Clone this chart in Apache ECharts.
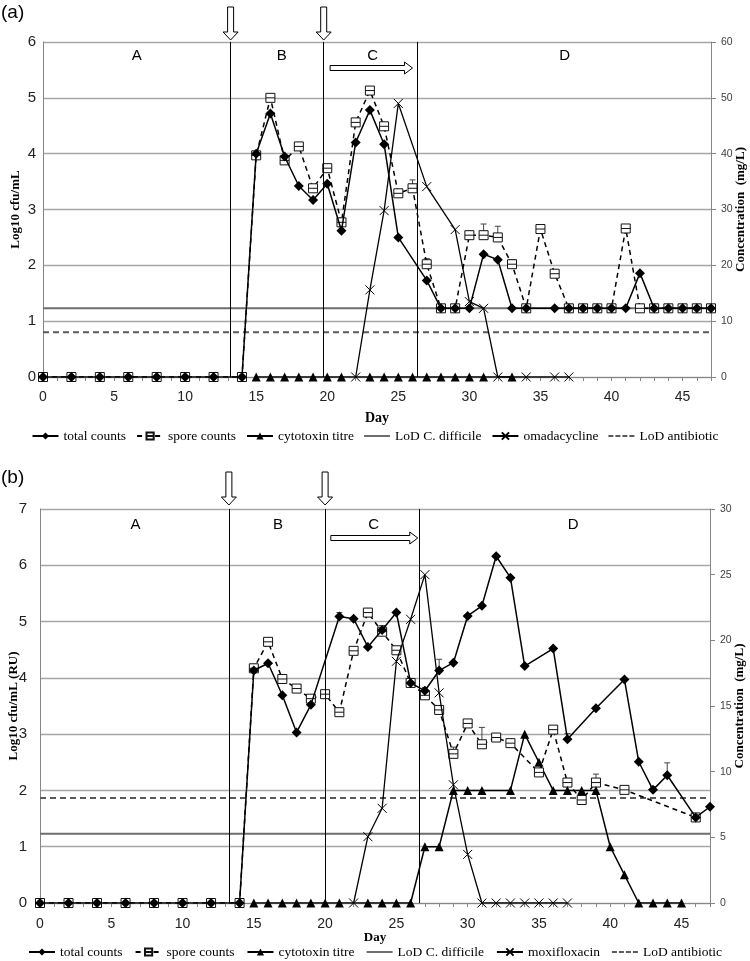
<!DOCTYPE html>
<html>
<head>
<meta charset="utf-8">
<script src="https://cdn.jsdelivr.net/npm/echarts@6/dist/echarts.min.js"></script>
<style>
  body { margin: 0; background: #fff; }
  #ca { position: absolute; left: 0; top: 0; width: 750px; height: 465px; }
  #cb { position: absolute; left: 0; top: 465px; width: 750px; height: 496px; }
</style>
</head>
<body>
<div id="ca"></div>
<div id="cb"></div>
<script>
// ---------- panel (a): omadacycline ----------
const totalDaysA = [0, 2, 4, 6, 8, 10, 12, 14, 15, 16, 17, 18, 19, 20, 21, 22, 23, 24, 25, 27, 28, 29, 30, 31, 32, 33, 34, 36, 37, 38, 39, 40, 41, 42, 43, 44, 45, 46, 47]
const totalA = [0, 0, 0, 0, 0, 0, 0, 0, 4.0, 4.72, 3.95, 3.42, 3.17, 3.46, 2.62, 4.2, 4.78, 4.17, 2.5, 1.73, 1.23, 1.23, 1.23, 2.2, 2.1, 1.23, 1.23, 1.23, 1.23, 1.23, 1.23, 1.23, 1.23, 1.86, 1.23, 1.23, 1.23, 1.23, 1.23]
const sporeDaysA = [0, 2, 4, 6, 8, 10, 12, 14, 15, 16, 17, 18, 19, 20, 21, 22, 23, 24, 25, 26, 27, 28, 29, 30, 31, 32, 33, 34, 35, 36, 37, 38, 39, 40, 41, 42, 43, 44, 45, 46, 47]
const sporeA = [0, 0, 0, 0, 0, 0, 0, 0, 3.97, 5.0, 3.88, 4.13, 3.38, 3.74, 2.77, 4.56, 5.13, 4.49, 3.29, 3.38, 2.02, 1.23, 1.23, 2.54, 2.54, 2.5, 2.02, 1.23, 2.65, 1.85, 1.23, 1.23, 1.23, 1.23, 2.66, 1.23, 1.23, 1.23, 1.23, 1.23, 1.23]
const sporeErrDaysA = [16, 18, 20, 22, 23, 24, 26, 27, 30, 31, 32, 33, 35, 41]
const sporeErrA = [0.06, 0.06, 0.06, 0.05, 0.05, 0.05, 0.15, 0.1, 0.06, 0.2, 0.2, 0.08, 0.05, 0.05]
const cytoDaysA = [15, 16, 17, 18, 19, 20, 21, 23, 24, 25, 26, 27, 28, 29, 30, 31, 33]
const cytoA = [0, 0, 0, 0, 0, 0, 0, 0, 0, 0, 0, 0, 0, 0, 0, 0, 0]
const drugDaysA = [22, 23, 24, 25, 27, 29, 30, 31, 32, 34, 36, 37]
const drugA = [0, 15.6, 29.8, 49, 34.1, 26.4, 13.5, 12.3, 0, 0, 0, 0]
const phasesA = [13.2, 19.75, 26.3]

// ---------- panel (b): moxifloxacin ----------
const totalDaysB = [0, 2, 4, 6, 8, 10, 12, 14, 15, 16, 17, 18, 19, 21, 22, 23, 24, 25, 26, 27, 28, 29, 30, 31, 32, 33, 34, 36, 37, 39, 41, 42, 43, 44, 46, 47]
const totalB = [0, 0, 0, 0, 0, 0, 0, 0, 4.13, 4.26, 3.69, 3.03, 3.52, 5.09, 5.05, 4.55, 4.85, 5.16, 3.91, 3.77, 4.13, 4.27, 5.1, 5.28, 6.16, 5.78, 4.21, 4.52, 2.91, 3.46, 3.97, 2.51, 2.01, 2.27, 1.52, 1.71]
const totalErrDaysB = [21, 24, 27, 28, 37, 43, 44]
const totalErrB = [0.07, 0.08, 0.06, 0.2, 0.1, 0.06, 0.22]
const sporeDaysB = [0, 2, 4, 6, 8, 10, 12, 14, 15, 16, 17, 18, 19, 20, 21, 22, 23, 24, 25, 26, 27, 28, 29, 30, 31, 32, 33, 35, 36, 37, 38, 39, 41, 46]
const sporeB = [0, 0, 0, 0, 0, 0, 0, 0, 4.17, 4.64, 3.98, 3.81, 3.63, 3.71, 3.39, 4.48, 5.16, 4.82, 4.49, 3.91, 3.69, 3.43, 2.65, 3.19, 2.82, 2.94, 2.84, 2.32, 3.08, 2.14, 1.83, 2.14, 2.01, 1.52]
const sporeErrDaysB = [16, 19, 28, 29, 30, 31, 33, 39]
const sporeErrB = [0.05, 0.05, 0.05, 0.12, 0.06, 0.3, 0.06, 0.15]
const cytoDaysB = [15, 16, 17, 18, 19, 20, 21, 23, 24, 25, 26, 27, 28, 29, 30, 31, 33, 34, 35, 36, 37, 38, 39, 40, 41, 42, 43, 44, 45]
const cytoB = [0, 0, 0, 0, 0, 0, 0, 0, 0, 0, 0, 1, 1, 2, 2, 2, 2, 3, 2.5, 2, 2, 2, 2, 1, 0.5, 0, 0, 0, 0]
const drugDaysB = [22, 23, 24, 25, 26, 27, 28, 29, 30, 31, 32, 33, 34, 35, 36, 37]
const drugB = [0, 5.05, 7.21, 18.4, 21.6, 25.0, 16.0, 9.0, 3.7, 0, 0, 0, 0, 0, 0, 0]
const phasesB = [13.25, 20.0, 26.6]

// shared
const dayRange = [0, 47]
const lodCdiff = 1.23 // log10 cfu/mL
const lodAntibiotic = 8 // mg/L
const phaseNames = ['A', 'B', 'C', 'D']

const SANS = 'Liberation Sans'
const SERIF = 'Liberation Serif'
const xMark = 'path://M0,0L10,10M10,0L0,10'
const sporeMark = 'path://M0,0L10,0L10,10L0,10ZM0,5L10,5'
const solidIcon = 'path://M0,0L26,0L26,2L0,2Z'
const dashIcon = 'path://M0,0L5,0L5,2L0,2ZM7,0L12,0L12,2L7,2ZM14,0L19,0L19,2L14,2ZM21,0L26,0L26,2L21,2Z'

function zip(a, b) {
  return a.map((d, i) => [d, b[i]])
}

function errData(days, errs, valDays, vals) {
  return days.map((d, i) => [d, vals[valDays.indexOf(d)], errs[i]])
}

function errSeries(data) {
  return {
    type: 'custom',
    silent: true,
    z: 1,
    data: data,
    renderItem(params, api) {
      const p0 = api.coord([api.value(0), api.value(1)])
      const p1 = api.coord([api.value(0), api.value(1) + api.value(2)])
      return {
        type: 'group',
        children: [
          { type: 'line', shape: { x1: p0[0], y1: p0[1], x2: p1[0], y2: p1[1] }, style: { stroke: '#444', lineWidth: 1 } },
          { type: 'line', shape: { x1: p1[0] - 3, y1: p1[1], x2: p1[0] + 3, y2: p1[1] }, style: { stroke: '#444', lineWidth: 1 } }
        ]
      }
    }
  }
}

function buildOption(p) {
  return {
    animation: false,
    grid: { left: p.grid[0], top: p.grid[1], width: p.grid[2], height: p.grid[3], containLabel: false, outerBoundsMode: 'none' },
    xAxis: {
      type: 'value',
      min: dayRange[0],
      max: dayRange[1],
      interval: 1,
      name: 'Day',
      nameLocation: 'middle',
      nameGap: p.dayGap,
      nameMoveOverlap: false,
      nameTextStyle: { fontFamily: SERIF, fontWeight: 'bold', fontSize: p.daySize, color: '#000' },
      axisLine: { show: true, onZero: false, lineStyle: { color: '#868686', width: 1 } },
      axisTick: { show: true, length: 4, lineStyle: { color: '#868686' } },
      axisLabel: {
        fontFamily: SANS, fontSize: 14, color: '#222', margin: p.xMargin,
        formatter: v => (v % 5 === 0 ? String(v) : '')
      },
      splitLine: { show: false }
    },
    yAxis: [
      {
        type: 'value',
        min: 0,
        max: p.yMaxL,
        interval: 1,
        name: p.yNameL,
        nameLocation: 'middle',
        nameGap: p.yGapL,
        nameRotate: 90,
        nameMoveOverlap: false,
        nameTextStyle: { fontFamily: SERIF, fontWeight: 'bold', fontSize: 13, color: '#000' },
        axisLine: { show: true, lineStyle: { color: '#868686' } },
        axisTick: { show: false },
        axisLabel: { fontFamily: SANS, fontSize: 15, color: '#222', margin: p.yMarginL },
        splitLine: { show: true, lineStyle: { color: '#a6a6a6', width: 1.3 } }
      },
      {
        type: 'value',
        min: 0,
        max: p.yMaxR,
        interval: p.intR,
        position: 'right',
        name: 'Concentration  (mg/L)',
        nameLocation: 'middle',
        nameGap: p.yGapR,
        nameRotate: 90,
        nameMoveOverlap: false,
        nameTextStyle: { fontFamily: SERIF, fontWeight: 'bold', fontSize: 13, color: '#000' },
        axisLine: { show: true, lineStyle: { color: '#868686' } },
        axisTick: { show: true, length: 5, lineStyle: { color: '#868686' } },
        axisLabel: { fontFamily: SANS, fontSize: 10.5, color: '#404040', margin: 10 },
        splitLine: { show: false }
      }
    ],
    legend: {
      top: p.legendTop,
      left: 'center',
      itemWidth: 26,
      itemHeight: 9,
      itemGap: p.legendGap,
      textStyle: { fontFamily: SERIF, fontSize: 13.5, color: '#000' },
      data: [
        'total counts',
        'spore counts',
        'cytotoxin titre',
        { name: 'LoD C. difficile', icon: solidIcon },
        p.drugName,
        { name: 'LoD antibiotic', icon: dashIcon }
      ]
    },
    series: [
      {
        name: 'spore counts',
        type: 'line',
        data: zip(p.sporeDays, p.spore),
        symbol: sporeMark,
        symbolSize: 9,
        z: 3,
        lineStyle: { color: '#000', width: 1.5, type: [5, 4] },
        itemStyle: { color: '#fff', borderColor: '#111', borderWidth: 1 }
      },
      {
        name: 'total counts',
        type: 'line',
        data: zip(p.totalDays, p.total),
        symbol: 'diamond',
        symbolSize: 10,
        z: 4,
        lineStyle: { color: '#000', width: 1.5 },
        itemStyle: { color: '#000' }
      },
      {
        name: 'cytotoxin titre',
        type: 'line',
        data: zip(p.cytoDays, p.cyto),
        symbol: 'triangle',
        symbolSize: 9,
        z: 3,
        lineStyle: { color: '#000', width: 1.5 },
        itemStyle: { color: '#000' },
        markLine: {
          silent: true,
          symbol: 'none',
          label: { show: false },
          lineStyle: { color: '#000', width: 1, type: 'solid' },
          data: p.phases.map(d => ({ xAxis: d }))
        }
      },
      {
        name: 'LoD C. difficile',
        type: 'line',
        data: [[dayRange[0], lodCdiff], [dayRange[1], lodCdiff]],
        symbol: 'none',
        z: 2,
        lineStyle: { color: '#6e6e6e', width: 2 },
        itemStyle: { color: '#6e6e6e' }
      },
      {
        name: p.drugName,
        type: 'line',
        yAxisIndex: 1,
        data: zip(p.drugDays, p.drug),
        symbol: xMark,
        symbolSize: 9,
        z: 5,
        lineStyle: { color: '#000', width: 1.3 },
        itemStyle: { color: 'rgba(0,0,0,0)', borderColor: '#000', borderWidth: 1 }
      },
      {
        name: 'LoD antibiotic',
        type: 'line',
        yAxisIndex: 1,
        data: [[dayRange[0], lodAntibiotic], [dayRange[1], lodAntibiotic]],
        symbol: 'none',
        z: 2,
        lineStyle: { color: '#5a5a5a', width: 2, type: [6, 4] },
        itemStyle: { color: '#5a5a5a' }
      },
      errSeries(p.errs)
    ]
  }
}

function downArrow(cx, y0) {
  return {
    type: 'polygon',
    shape: { points: [[cx - 3, y0], [cx + 3, y0], [cx + 3, y0 + 25], [cx + 7.5, y0 + 25], [cx, y0 + 33], [cx - 7.5, y0 + 25], [cx - 3, y0 + 25]] },
    style: { fill: '#fff', stroke: '#000', lineWidth: 1 }
  }
}

function rightArrow(x1, x2, yc) {
  return {
    type: 'polygon',
    shape: { points: [[x1, yc - 2.5], [x2 - 8, yc - 2.5], [x2 - 8, yc - 6], [x2, yc], [x2 - 8, yc + 6], [x2 - 8, yc + 2.5], [x1, yc + 2.5]] },
    style: { fill: '#fff', stroke: '#000', lineWidth: 1 }
  }
}

function drawPanel(el, p) {
  const chart = echarts.init(document.getElementById(el), null, { renderer: 'canvas' })
  chart.setOption(buildOption(p))
  const px = d => chart.convertToPixel({ xAxisIndex: 0, yAxisIndex: 0 }, [d, 0])[0]
  const top = p.grid[1]
  const g = [
    { type: 'text', left: 1, top: 3, style: { text: p.tag, fontFamily: SANS, fontSize: 19, fill: '#000' } },
    downArrow(px(p.phases[0]), 7),
    downArrow(px(p.phases[1]), 7),
    rightArrow(px(p.arrowC[0]), px(p.arrowC[1]), top + p.arrowY)
  ]
  p.labelDays.forEach((d, i) => {
    g.push({
      type: 'text',
      x: px(d),
      y: top + p.labelY,
      style: { text: phaseNames[i], fontFamily: SANS, fontSize: 15, fill: '#000', align: 'center', verticalAlign: 'middle' }
    })
  })
  chart.setOption({ graphic: g })
}

drawPanel('ca', {
  tag: '(a)',
  grid: [43, 42, 668, 335],
  yMaxL: 6, yMaxR: 60, intR: 10,
  yNameL: 'Log10 cfu/mL',
  yGapL: 21, yGapR: 23, dayGap: 34, daySize: 14,
  xMargin: 13, yMarginL: 7,
  legendTop: 424, legendGap: 10,
  drugName: 'omadacycline',
  totalDays: totalDaysA, total: totalA,
  sporeDays: sporeDaysA, spore: sporeA,
  cytoDays: cytoDaysA, cyto: cytoA,
  drugDays: drugDaysA, drug: drugA,
  errs: errData(sporeErrDaysA, sporeErrA, sporeDaysA, sporeA),
  phases: phasesA,
  labelDays: [6.6, 16.8, 23.2, 36.7],
  labelY: 14,
  arrowC: [20.2, 26.0],
  arrowY: 26
})

drawPanel('cb', {
  tag: '(b)',
  grid: [40, 44, 670, 394],
  yMaxL: 7, yMaxR: 30, intR: 5,
  yNameL: 'Log10 cfu/mL (RU)',
  yGapL: 20, yGapR: 23, dayGap: 28, daySize: 13,
  xMargin: 14, yMarginL: 13,
  legendTop: 475, legendGap: 12,
  drugName: 'moxifloxacin',
  totalDays: totalDaysB, total: totalB,
  sporeDays: sporeDaysB, spore: sporeB,
  cytoDays: cytoDaysB, cyto: cytoB,
  drugDays: drugDaysB, drug: drugB,
  errs: errData(totalErrDaysB, totalErrB, totalDaysB, totalB).concat(errData(sporeErrDaysB, sporeErrB, sporeDaysB, sporeB)),
  phases: phasesB,
  labelDays: [6.7, 16.7, 23.4, 37.4],
  labelY: 16,
  arrowC: [20.4, 26.5],
  arrowY: 29
})
</script>
</body>
</html>
